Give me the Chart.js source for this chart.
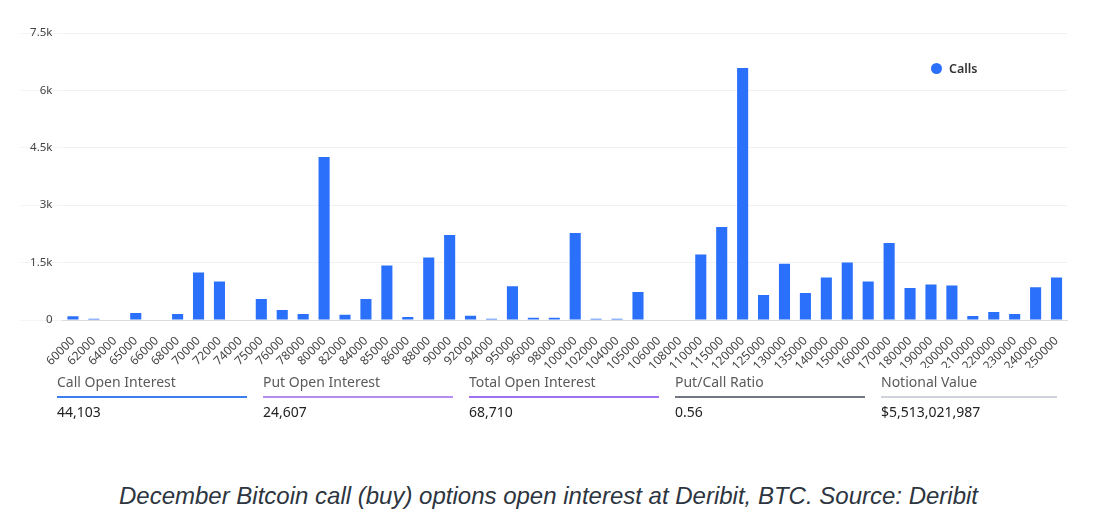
<!DOCTYPE html>
<html lang="en">
<head>
    <meta charset="UTF-8">
    <title>December Bitcoin call options open interest</title>
    <script src="https://cdn.jsdelivr.net/npm/chart.js"></script>
    <style>
        body {
            margin: 0;
            background: #ffffff;
            font-family: 'Noto Sans', Arial, sans-serif;
        }
        .page {
            position: relative;
            width: 1097px;
            height: 527px;
        }
        .chart-box {
            position: absolute;
            left: 0;
            top: 0;
            width: 1097px;
            height: 380px;
        }
        /* legend inside the plot, top right */
        .legend {
            position: absolute;
            left: 931px;
            top: 60px;
            font-size: 12.5px;
            font-weight: 600;
            color: #333;
        }
        .legend .dot {
            display: inline-block;
            width: 11px;
            height: 11px;
            border-radius: 50%;
            background: #2b70fa;
            vertical-align: -1px;
            margin-right: 7px;
        }
        .stats {
            position: absolute;
            left: 57px;
            top: 372px;
            display: flex;
            gap: 16px;
        }
        .stat {
            width: 190px;
        }
        .stat .lbl {
            font-size: 14px;
            color: #5a5a5a;
            padding-bottom: 5px;
            border-bottom: 2px solid #ccc;
        }
        .stat .val {
            font-size: 14px;
            color: #222;
            margin-top: 4px;
        }
        .caption {
            position: absolute;
            left: 0;
            top: 482px;
            width: 1097px;
            text-align: center;
            font-family: 'Liberation Sans', Arial, sans-serif;
            font-style: italic;
            font-size: 24px;
            color: #2d3540;
        }
    </style>
</head>
<body>
<div class="page">
    <div class="chart-box">
        <canvas id="callsChart"></canvas>
    </div>
    <div class="legend"><span class="dot"></span>Calls</div>

    <div class="stats">
        <div class="stat"><div class="lbl" style="border-color:#3b7ff2">Call Open Interest</div><div class="val">44,103</div></div>
        <div class="stat"><div class="lbl" style="border-color:#b98cf2">Put Open Interest</div><div class="val">24,607</div></div>
        <div class="stat"><div class="lbl" style="border-color:#a070ee">Total Open Interest</div><div class="val">68,710</div></div>
        <div class="stat"><div class="lbl" style="border-color:#727883">Put/Call Ratio</div><div class="val">0.56</div></div>
        <div class="stat" style="width:176px"><div class="lbl" style="border-color:#cfd2db">Notional Value</div><div class="val">$5,513,021,987</div></div>
    </div>

    <div class="caption">December Bitcoin call (buy) options open interest at Deribit, BTC. Source: Deribit</div>
</div>

<script>
// strike prices (x categories)
const strikes = ['60000', '62000', '64000', '65000', '66000', '68000', '70000', '72000', '74000', '75000',
    '76000', '78000', '80000', '82000', '84000', '85000', '86000', '88000', '90000', '92000',
    '94000', '95000', '96000', '98000', '100000', '102000', '104000', '105000', '106000', '108000',
    '110000', '115000', '120000', '125000', '130000', '135000', '140000', '150000', '160000', '170000',
    '180000', '190000', '200000', '210000', '220000', '230000', '240000', '250000'];

// call open interest per strike
const callsOI = [100, 35, 0, 182, 0, 156, 1241, 1007, 0, 547,
    260, 156, 4262, 139, 547, 1424, 78, 1632, 2222, 113,
    35, 885, 61, 61, 2274, 35, 35, 729, 0, 0,
    1710, 2430, 6588, 651, 1467, 703, 1111, 1502, 1007, 2014,
    833, 929, 903, 104, 208, 156, 859, 1111];

// y axis ticks
const yTicks = [0, 1500, 3000, 4500, 6000, 7500];
const yTickLabels = ['0', '1.5k', '3k', '4.5k', '6k', '7.5k'];

const ctx = document.getElementById('callsChart').getContext('2d');
new Chart(ctx, {
    type: 'bar',
    data: {
        labels: strikes,
        datasets: [{
            label: 'Calls',
            data: callsOI,
            backgroundColor: '#2b70fa',
            barPercentage: 0.53,
            categoryPercentage: 1
        }]
    },
    options: {
        responsive: true,
        maintainAspectRatio: false,
        animation: false,
        layout: {
            padding: { left: 20, right: 30, top: 33, bottom: 12 }
        },
        plugins: {
            legend: { display: false },
            tooltip: { enabled: false }
        },
        scales: {
            x: {
                grid: { display: false },
                border: { color: '#dcdcdc' },
                afterFit: function (scale) {
                    scale.height = 48;
                },
                ticks: {
                    autoSkip: false,
                    maxRotation: 45,
                    minRotation: 45,
                    padding: 6,
                    color: '#444',
                    font: { family: 'Noto Sans', size: 12 }
                }
            },
            y: {
                min: 0,
                max: 7500,
                border: { display: false },
                grid: {
                    color: '#f1f1f1',
                    tickLength: 42,
                    tickColor: '#f4f4f4'
                },
                afterFit: function (scale) {
                    scale.width = 42.5;
                },
                afterBuildTicks: function (scale) {
                    scale.ticks = yTicks.map(v => ({ value: v }));
                },
                ticks: {
                    padding: -32,
                    color: '#444',
                    font: { family: 'Noto Sans', size: 11.5 },
                    callback: function (value) {
                        const i = yTicks.indexOf(value);
                        return i >= 0 ? yTickLabels[i] : '';
                    }
                }
            }
        }
    }
});
</script>
</body>
</html>
